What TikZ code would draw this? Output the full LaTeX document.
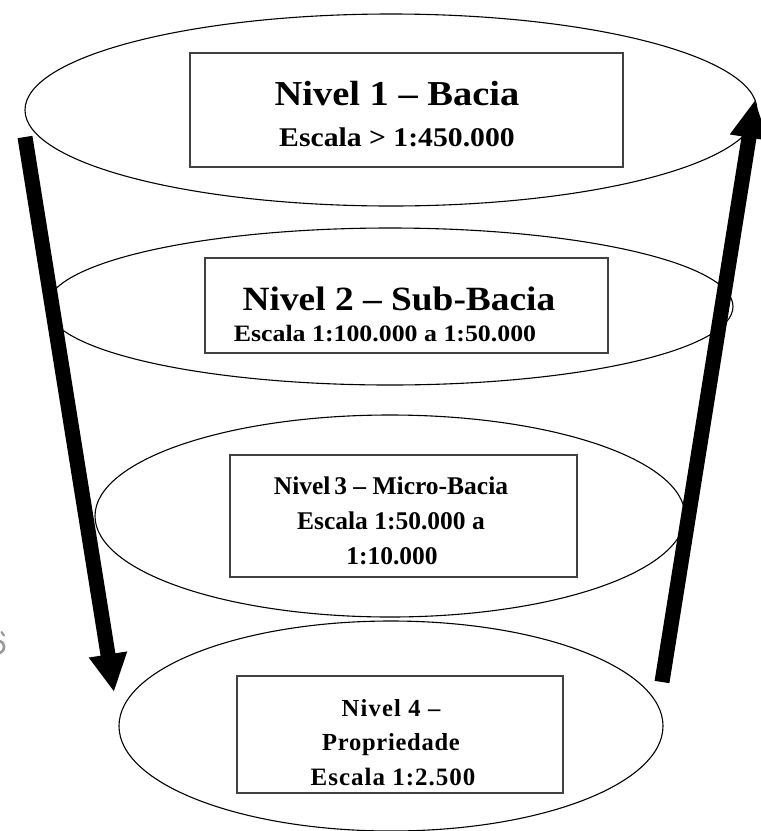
\documentclass[tikz,border=0pt]{standalone}
\usepackage{fontspec}
\setmainfont{Liberation Serif}
\newfontfamily\wideserif[FakeStretch=1.1]{Liberation Serif}
\usetikzlibrary{shapes.geometric,arrows.meta}

\begin{document}
\begin{tikzpicture}[x=1pt,y=-1pt,
  level/.style={ellipse, draw=black, line width=1.1pt, inner sep=0pt},
  scalebox/.style={rectangle, draw=black!75, line width=1.1pt, fill=white, inner sep=0pt},
  bigline/.style={anchor=base, inner sep=0pt, font=\wideserif\bfseries},
  smallline/.style={anchor=base, inner sep=0pt, font=\bfseries},
  flow/.style={line width=15pt, -{Triangle[width=36pt,length=38pt]}}
]
% page frame
\useasboundingbox (0,0) rectangle (761,831);

% the four stacked levels of the funnel
\node[level, minimum width=732pt, minimum height=192pt] (e1) at (391,110) {};
\node[level, minimum width=686pt, minimum height=157pt] (e2) at (390,306.5) {};
\node[level, minimum width=590pt, minimum height=202pt] (e3) at (390,516) {};
\node[level, minimum width=544pt, minimum height=210pt] (e4) at (391,726) {};

% label boxes
\node[scalebox, minimum width=433pt, minimum height=114pt] (b1) at (406.5,110) {};
\node[scalebox, minimum width=403pt, minimum height=95pt] (b2) at (406.5,305.5) {};
\node[scalebox, minimum width=347pt, minimum height=122pt] (b3) at (403.5,516) {};
\node[scalebox, minimum width=326pt, minimum height=117pt] (b4) at (400,734.5) {};

% level 1
\node[bigline, font=\wideserif\bfseries\fontsize{35}{40}\selectfont] (t1a) at (397,105) {Nivel 1 – Bacia};
\node[bigline, font=\wideserif\bfseries\fontsize{27}{32}\selectfont] (t1b) at (397,146) {Escala > 1:450.000};

% level 2
\node[bigline, font=\wideserif\bfseries\fontsize{34}{40}\selectfont] (t2a) at (399,310) {Nivel 2 – Sub-Bacia};
\node[bigline, font=\wideserif\bfseries\fontsize{23.5}{28}\selectfont] (t2b) at (385,341) {Escala 1:100.000 a 1:50.000};

% level 3
\node[smallline, font=\bfseries\fontsize{25.5}{30}\selectfont] (t3a) at (391,494) {Nivel\hspace{0.15em}3 – Micro-Bacia};
\node[smallline, font=\bfseries\fontsize{25.5}{30}\selectfont] (t3b) at (391,529) {Escala 1:50.000 a};
\node[smallline, font=\bfseries\fontsize{25.5}{30}\selectfont] (t3c) at (392,564) {1:10.000};

% level 4
\node[smallline, font=\bfseries\fontsize{24.5}{28}\selectfont\addfontfeature{LetterSpace=5}] (t4a) at (391,716) {Nivel 4 –};
\node[smallline, font=\bfseries\fontsize{24.5}{28}\selectfont\addfontfeature{LetterSpace=3}] (t4b) at (391,750) {Propriedade};
\node[smallline, font=\bfseries\fontsize{25}{28}\selectfont\addfontfeature{LetterSpace=4}] (t4c) at (393,785) {Escala 1:2.500};

% grey stroke fragment at the left margin
\draw[black!40, line width=2.6pt, line cap=round]
  (0,641) .. controls (5,642) and (6,651) .. (0,653);
\draw[black!40, line width=2.2pt, line cap=round] (1.5,632) -- (4,635.5);

% downward and upward arrows
\coordinate (down-s) at (25,137);
\coordinate (down-e) at (114,692);
\coordinate (up-s) at (662,682);
\coordinate (up-e) at (755,100);
\draw[flow] (down-s) -- (down-e);
\draw[flow] (up-s) -- (up-e);
\end{tikzpicture}
\end{document}
